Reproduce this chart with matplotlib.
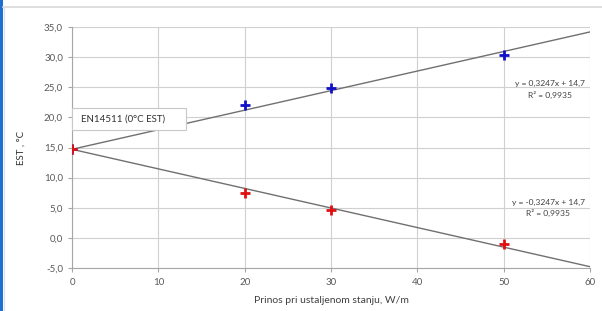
import matplotlib
matplotlib.use("Agg")
import matplotlib.pyplot as plt
import numpy as np
from matplotlib.lines import Line2D
from matplotlib.patches import Rectangle

# Data
blue_x = [0, 20, 30, 50]
blue_y = [14.7, 22.0, 24.8, 30.4]
red_x = [0, 20, 30, 50]
red_y = [14.7, 7.4, 4.6, -1.0]
slope_up, icpt_up = 0.3247, 14.7
slope_dn, icpt_dn = -0.3247, 14.7
fit_x = [0, 60]
x_ticks = [0, 10, 20, 30, 40, 50, 60]
y_ticks = [-5, 0, 5, 10, 15, 20, 25, 30, 35]
y_ticklabels = ["-5,0", "0,0", "5,0", "10,0", "15,0", "20,0", "25,0", "30,0", "35,0"]
eq_up = ["y = 0,3247x + 14,7", "R² = 0,9935"]
eq_dn = ["y = -0,3247x + 14,7", "R² = 0,9935"]
annot = "EN14511 (0°C EST)"
xlabel = "Prinos pri ustaljenom stanju, W/m"
ylabel = "EST , °C"

plt.rcParams['font.family'] = ['Lato', 'DejaVu Sans']
W, H = 602, 311
fig = plt.figure(figsize=(W/100, H/100), dpi=100)
fig.patch.set_facecolor('white')

# frame decorations
fig.add_artist(Line2D([1/W, 1/W], [0, 1], color='#1f6fd0', lw=2.2, transform=fig.transFigure))
fig.add_artist(Line2D([3/W, 1], [1-7/H, 1-7/H], color='#d8d8d8', lw=1.2, transform=fig.transFigure))
fig.add_artist(Line2D([3.5/W, 3.5/W], [0, 1-7/H], color='#e0e0e0', lw=0.8, transform=fig.transFigure))

ax = fig.add_axes([72/W, 1-268/H, (590-72)/W, (268-27)/H])
ax.set_xlim(0, 60)
ax.set_ylim(-5, 35)
ax.set_xticks(x_ticks)
ax.set_yticks(y_ticks)
ax.set_yticklabels(y_ticklabels)
ax.grid(True, color='#d0d0d0', lw=0.8)
ax.set_axisbelow(True)
for s in ['top', 'right']:
    ax.spines[s].set_visible(False)
for s in ['left', 'bottom']:
    ax.spines[s].set_color('#a6a6a6')
    ax.spines[s].set_linewidth(0.8)
ax.tick_params(axis='both', colors='#a6a6a6', labelcolor='#595959', labelsize=7, length=3, width=0.8)
ax.tick_params(axis='x', pad=4)

fx = np.array(fit_x, dtype=float)
ax.plot(fx, slope_up*fx + icpt_up, color='#707070', lw=1.0, zorder=2)
ax.plot(fx, slope_dn*fx + icpt_dn, color='#707070', lw=1.0, zorder=2)
ax.plot(blue_x, blue_y, linestyle='none', marker='+', ms=7, mew=2, color='#1010c8', zorder=3)
ax.plot(red_x, red_y, linestyle='none', marker='+', ms=7, mew=2, color='#e01010', zorder=3)

ax.text(59.4, 24.6, eq_up[0] + "\n" + eq_up[1], ha='right', va='center', fontsize=6.1,
        color='#404040', multialignment='center', linespacing=1.5)
ax.text(59.4, 5.0, eq_dn[0] + "\n" + eq_dn[1], ha='right', va='center', fontsize=6.1,
        color='#404040', multialignment='center', linespacing=1.5)

# annotation box
fig.add_artist(Rectangle((72/W, 1-130/H), (186-72)/W, 22/H, transform=fig.transFigure,
                         facecolor='white', edgecolor='#c8c8c8', lw=0.8, zorder=5))
fig.text(81/W, 1-119/H, annot, ha='left', va='center', fontsize=7, color='#303030', zorder=6)

ax.set_xlabel(xlabel, fontsize=7.5, color='#404040', labelpad=7)
ax.set_ylabel(ylabel, fontsize=7, color='#303030', labelpad=13)

fig.savefig('out.png', dpi=100)
